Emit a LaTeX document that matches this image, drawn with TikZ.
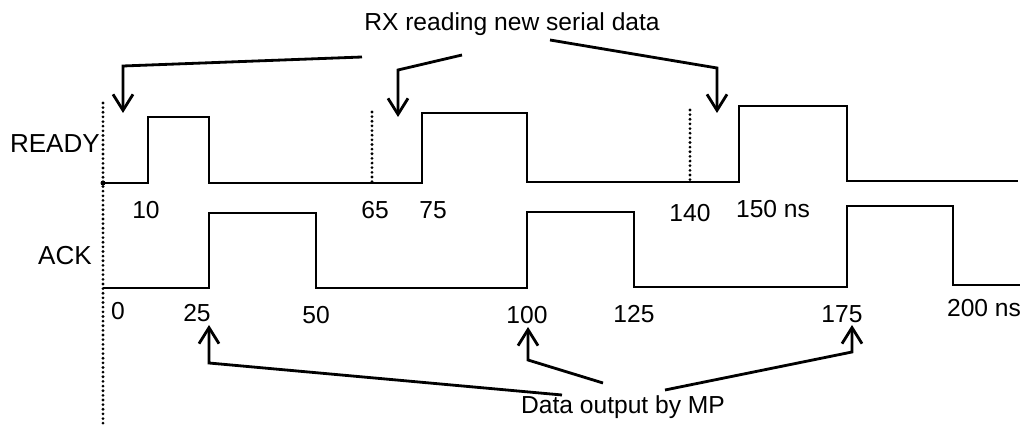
\documentclass[tikz,border=0pt]{standalone}
\usepackage{fontspec}
\setmainfont{Liberation Sans}
\usetikzlibrary{arrows.meta,positioning}

\begin{document}
\begin{tikzpicture}[x=0.025cm, y=-0.025cm, node distance=4.5mm, on grid,
  wave/.style={line width=2.1pt, line join=miter},
  guide/.style={line width=2.2pt, line cap=round, dash pattern=on 0pt off 3.3pt},
  ptr/.style={line width=2pt, -{Straight Barb[length=4mm, width=5mm]}},
  lbl/.style={font=\fontsize{17.5}{20}\selectfont, inner sep=0pt},
  sig/.style={font=\fontsize{18.5}{22}\selectfont, inner sep=0pt}]
\useasboundingbox (0,0) rectangle (1026,432);

% edges of the two signals
\coordinate (r0) at (103,183);
\coordinate (r10) at (148,183);
\coordinate (r65) at (372,183);
\coordinate (r75) at (422,183);
\coordinate (r140) at (690,182);
\coordinate (r150) at (739,182);
\coordinate (a0) at (103,288);
\coordinate (a25) at (209,288);
\coordinate (a50) at (316,288);
\coordinate (a100) at (527,288);
\coordinate (a125) at (634,287);
\coordinate (a175) at (847,287);
\coordinate (a200) at (953,285);

% time marks
\draw[guide] (103,103) -- (103,425);
\draw[guide] (372,112) -- (r65);
\draw[guide] (690,110) -- (r140);

% READY
\draw[wave] (r0) -- (r10) -- (148,117) -- (209,117) -- (209,183) -- (r75)
  -- (422,113) -- (527,113) -- (527,182) -- (r150) -- (739,106) -- (847,106)
  -- (847,181) -- (1018,181);
\fill (r0) circle[radius=2.5];
% ACK
\draw[wave] (a0) -- (a25) -- (209,213) -- (316,213) -- (a50) -- (a100)
  -- (527,212) -- (634,212) -- (a125) -- (a175) -- (847,206) -- (953,206)
  -- (a200) -- (1020,285);

\node[sig, anchor=base east] (ready) at (100,153) {READY};
\node[sig, anchor=base east] (ack) at (92,265) {ACK};

\node[lbl, below=of r10, xshift=-0.5mm] (t10) {10};
\node[lbl, below=of r65, xshift=0.75mm] (t65) {65};
\node[lbl, below=of r75, xshift=2.75mm] (t75) {75};
\node[lbl, below=5.5mm of r140] (t140) {140};
\node[lbl, below=of r150, xshift=8.5mm] (t150) {150 ns};
\node[lbl, below=3.5mm of a0, xshift=3.75mm] (t0) {0};
\node[lbl, below=4mm of a25, xshift=-3mm] (t25) {25};
\node[lbl, below=of a50] (t50) {50};
\node[lbl, below=of a100] (t100) {100};
\node[lbl, below=of a125] (t125) {125};
\node[lbl, below=of a175, xshift=-1.25mm] (t175) {175};
\node[lbl, below=3.5mm of a200, xshift=7.75mm] (t200) {200 ns};

\node[lbl, anchor=base] (rx) at (512,31) {RX reading new serial data};
\node[lbl, anchor=base] (mp) at (623,413) {Data output by MP};

% pointers from the two captions
\coordinate (rxA) at (362,57);
\coordinate (rxB) at (462,55);
\coordinate (rxC) at (550,40);
\coordinate (kA) at (123,66);
\coordinate (kB) at (398,70);
\coordinate (kC) at (717,68);
\coordinate (pA) at (123,113);
\coordinate (pB) at (398,117);
\coordinate (pC) at (717,113);
\draw[ptr] (rxA) -- (kA) -- (pA);
\draw[ptr] (rxB) -- (kB) -- (pB);
\draw[ptr] (rxC) -- (kC) -- (pC);

\coordinate (mpA) at (562,395);
\coordinate (mpB) at (603,383);
\coordinate (mpC) at (665,390);
\coordinate (jA) at (209,363);
\coordinate (jB) at (528,360);
\coordinate (jC) at (852,352);
\coordinate (qA) at (209,325);
\coordinate (qB) at (528,327);
\coordinate (qC) at (852,325);
\draw[ptr] (mpA) -- (jA) -- (qA);
\draw[ptr] (mpB) -- (jB) -- (qB);
\draw[ptr] (mpC) -- (jC) -- (qC);
\end{tikzpicture}
\end{document}
